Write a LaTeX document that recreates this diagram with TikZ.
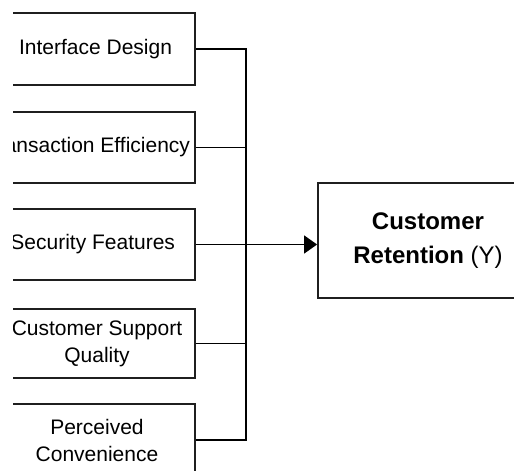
\documentclass[tikz,border=0pt]{standalone}
\usepackage{fontspec}
\setmainfont{Liberation Sans}
\usetikzlibrary{arrows.meta}
\newcommand{\rtext}[2]{\hbox to #1{\hss #2}}
\begin{document}
\begin{tikzpicture}[x=1pt,y=-1pt,
  factor/.style={draw=black!88, line width=1.8pt, minimum width=196pt, align=center,
    inner sep=0pt, font=\fontsize{21}{27}\selectfont},
  outcome/.style={draw=black!88, line width=1.8pt, minimum width=220pt, minimum height=115pt,
    align=center, inner sep=0pt, font=\fontsize{24}{34}\selectfont},
  conn/.style={draw=black, line width=1.5pt},
  tip/.style={-{Triangle[length=13pt,width=18pt]}}]
\useasboundingbox (0,0) rectangle (514,471);
\begin{scope}
\clip (13,0) rectangle (514,471);
\node[factor, minimum height=72pt] (b1) at (97,49) {\rtext{150pt}{Interface Design}};
\node[factor, minimum height=71pt] (b2) at (97,147.5) {\rtext{186pt}{Transaction Efficiency}};
\node[factor, minimum height=71pt] (b3) at (97,244.5) {\rtext{156pt}{Security Features}};
\node[factor, minimum height=69pt] (b4) at (97,343.5) {Customer Support\\Quality};
\node[factor, minimum height=72pt] (b5) at (97,440) {Perceived\\Convenience};
\node[outcome] (out) at (428,240.5) {\textbf{Customer}\\\textbf{Retention} (Y)};
\coordinate (bus) at (246,0);
\draw[conn] (b1.east) -- (b1.east -| bus) -- (b5.east -| bus) -- (b5.east);
\draw[conn] (b2.east) -- (b2.east -| bus);
\draw[conn] (b4.east) -- (b4.east -| bus);
\draw[conn, tip] (b3.east) -- (b3.east -| out.west);
\end{scope}
\end{tikzpicture}
\end{document}
